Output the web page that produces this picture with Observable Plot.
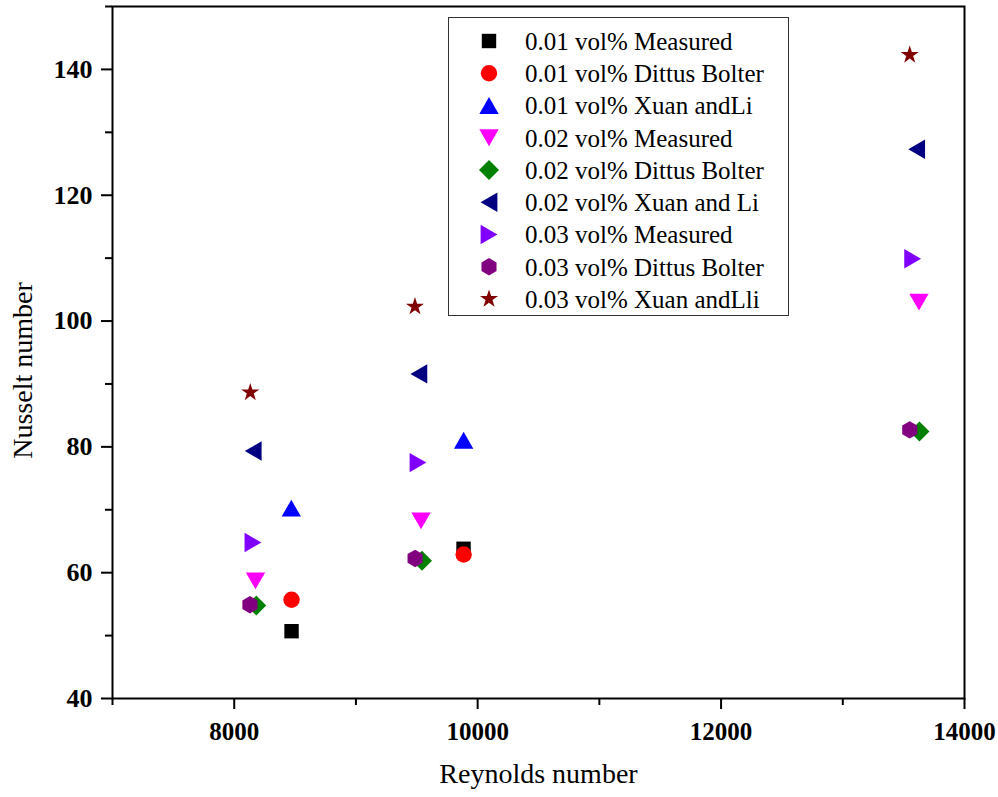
<!DOCTYPE html>
<html><head><meta charset="utf-8">
<script src="https://cdn.jsdelivr.net/npm/d3@7"></script>
<script src="https://cdn.jsdelivr.net/npm/@observablehq/plot@0.6"></script>
<style>
body{margin:0;background:#fff;}
#wrap{position:relative;width:998px;height:797px;font-family:"Liberation Serif",serif;}
#legend{position:absolute;left:448px;top:17px;width:341px;height:299px;border:1.5px solid #333;background:#fff;box-sizing:border-box;}
#legend svg{position:absolute;left:-1.5px;top:-1.5px;}
</style></head><body><div id="wrap"><div id="legend"></div></div>
<script>
// ---- data ----
const seriesNames = [
  "0.01 vol% Measured", "0.01 vol% Dittus Bolter", "0.01 vol% Xuan andLi",
  "0.02 vol% Measured", "0.02 vol% Dittus Bolter", "0.02 vol% Xuan and Li",
  "0.03 vol% Measured", "0.03 vol% Dittus Bolter", "0.03 vol% Xuan andLli"
];
const re_001_measured = [8471, 9884];          const nu_001_measured = [50.7, 63.8];
const re_001_dittus   = [8471, 9885];          const nu_001_dittus   = [55.7, 62.9];
const re_001_xuan     = [8469, 9885];          const nu_001_xuan     = [70.25, 81.05];
const re_002_measured = [8175, 9535, 13626];   const nu_002_measured = [58.7, 68.25, 103.0];
const re_002_dittus   = [8181, 9543, 13630];   const nu_002_dittus   = [54.8, 61.9, 82.45];
const re_002_xuan     = [8156, 9517, 13607];   const nu_002_xuan     = [79.35, 91.6, 127.3];
const re_003_measured = [8154, 9510, 13574];   const nu_003_measured = [64.8, 77.5, 109.9];
const re_003_dittus   = [8129, 9486, 13550];   const nu_003_dittus   = [54.9, 62.26, 82.7];
const re_003_xuan     = [8132, 9485, 13550];   const nu_003_xuan     = [88.65, 102.3, 142.3];
const xMajorTicks = [8000, 10000, 12000, 14000];
const xMinorTicks = [7000, 9000, 11000, 13000];
const yMajorTicks = [40, 60, 80, 100, 120, 140];
const yMinorTicks = [50, 70, 90, 110, 130, 150];

// ---- symbols ----
function poly(pts){ return {draw(c, s){ const r = Math.sqrt(s/Math.PI);
  pts.forEach(([px,py],i)=> i ? c.lineTo(px*r, py*r) : c.moveTo(px*r, py*r)); c.closePath(); }}; }
const hexPts = d3.range(6).map(k => [Math.cos((-90+60*k)*Math.PI/180), Math.sin((-90+60*k)*Math.PI/180)]);
const starPts = d3.range(10).map(k => { const a = (-90 + 36*k)*Math.PI/180, rr = k%2 ? 0.382 : 1; return [rr*Math.cos(a), rr*Math.sin(a)]; });
const shapes = {
  square: poly([[-1,-1],[1,-1],[1,1],[-1,1]]),
  circle: {draw(c,s){ const r=Math.sqrt(s/Math.PI); c.moveTo(r,0); c.arc(0,0,r,0,2*Math.PI); }},
  triUp: poly([[0,-0.866],[1,0.866],[-1,0.866]]),
  triDown: poly([[0,0.866],[1,-0.866],[-1,-0.866]]),
  triLeft: poly([[-0.866,0],[0.866,-1],[0.866,1]]),
  triRight: poly([[0.866,0],[-0.866,-1],[-0.866,1]]),
  diamond: poly([[0,-1],[1,0],[0,1],[-1,0]]),
  hexagon: poly(hexPts),
  star: poly(starPts)
};
const seriesShape = ["square","circle","triUp","triDown","diamond","triLeft","triRight","hexagon","star"];
const seriesR = [7.2, 8.2, 9.7, 9.7, 10, 9.7, 9.7, 8.7, 9.5];
const seriesColor = ["#000000","#ff0000","#0000ff","#ff00ff","#008000","#000080","#8000ff","#800080","#800000"];
const seriesX = [re_001_measured, re_001_dittus, re_001_xuan, re_002_measured, re_002_dittus, re_002_xuan, re_003_measured, re_003_dittus, re_003_xuan];
const seriesY = [nu_001_measured, nu_001_dittus, nu_001_xuan, nu_002_measured, nu_002_dittus, nu_002_xuan, nu_003_measured, nu_003_dittus, nu_003_xuan];

const dotMarks = seriesNames.map((name, i) =>
  Plot.dot(seriesX[i].map((x, j) => ({x, y: seriesY[i][j]})), {
    x: "x", y: "y", symbol: shapes[seriesShape[i]], r: seriesR[i], fill: seriesColor[i], stroke: "none"
  })
);

const chart = Plot.plot({
  width: 998, height: 797,
  marginLeft: 112, marginRight: 34, marginTop: 6, marginBottom: 99,
  style: {fontFamily: "'Liberation Serif', serif", background: "white", color: "black"},
  x: {domain: [7000, 14000]},
  y: {domain: [40, 150]},
  marks: [
    Plot.axisX({ticks: xMajorTicks, tickSize: 11, tickPadding: 12.5, fontSize: 25, fontWeight: "bold", strokeWidth: 2, label: null, tickFormat: d => String(d)}),
    Plot.axisX({ticks: xMinorTicks, tickSize: 7, strokeWidth: 2, label: null, tickFormat: () => ""}),
    Plot.axisY({ticks: yMajorTicks, tickSize: 11, tickPadding: 9, fontSize: 26, fontWeight: "bold", strokeWidth: 2, label: null, tickFormat: d => String(d)}),
    Plot.axisY({ticks: yMinorTicks, tickSize: 7, strokeWidth: 2, label: null, tickFormat: () => ""}),
    Plot.frame({stroke: "black", strokeWidth: 2}),
    ...dotMarks,
    Plot.text(["Reynolds number"], {text: d => d, frameAnchor: "bottom", dy: 76, fontSize: 28, textAnchor: "middle", lineAnchor: "middle"}),
    Plot.text(["Nusselt number"], {text: d => d, frameAnchor: "left", dx: -89, dy: 18, rotate: -90, fontSize: 28, textAnchor: "middle", lineAnchor: "middle"})
  ]
});
const wrap = document.getElementById("wrap");
wrap.insertBefore(chart, wrap.firstChild);

// ---- legend ----
const lsvg = d3.select("#legend").append("svg").attr("width", 341).attr("height", 299);
seriesNames.forEach((name, i) => {
  const cy = 24 + 32.25*i;
  const p = d3.path();
  shapes[seriesShape[i]].draw(p, Math.PI*seriesR[i]*seriesR[i]);
  lsvg.append("path").attr("d", p.toString()).attr("transform", `translate(41,${cy})`).attr("fill", seriesColor[i]);
  lsvg.append("text").attr("x", 77).attr("y", cy).attr("dy", "0.35em")
    .attr("font-family", "'Liberation Serif', serif").attr("font-size", 25).attr("fill", "black").text(name);
});
</script></body></html>
